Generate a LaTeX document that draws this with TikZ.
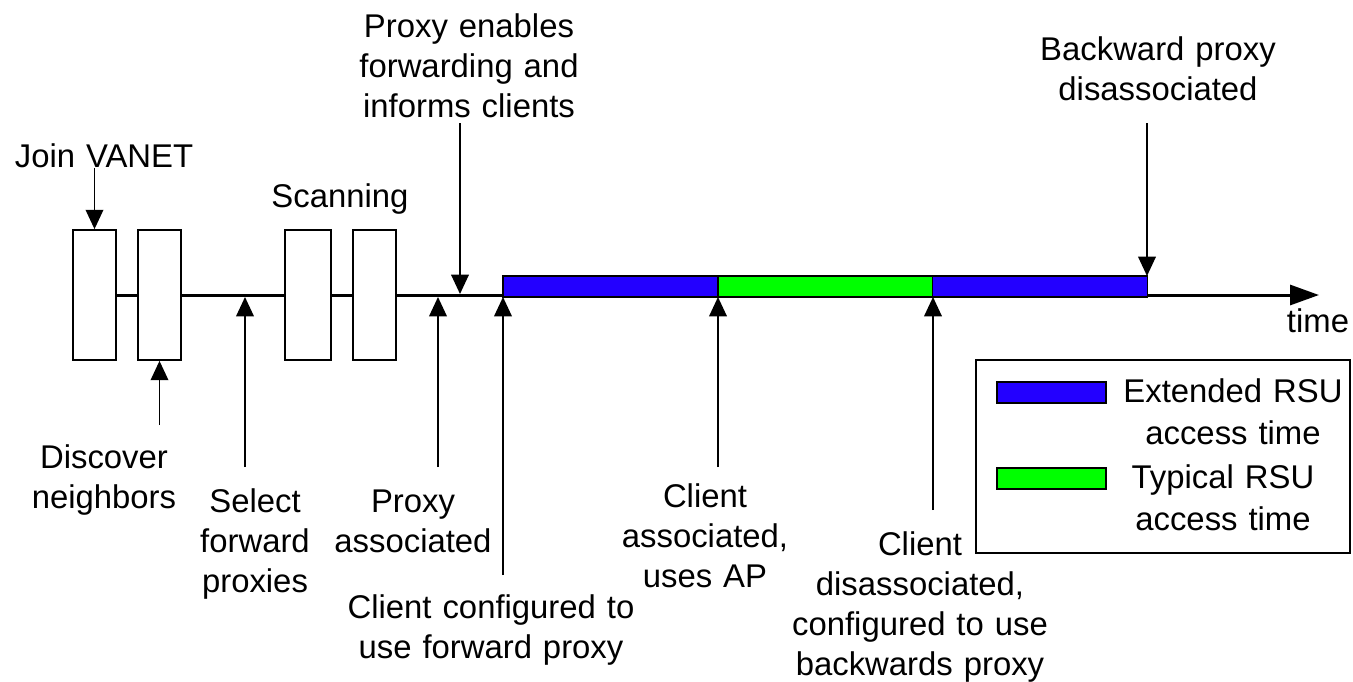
\documentclass[tikz,border=0pt]{standalone}
\usepackage{fontspec}
\setmainfont{Liberation Sans}
\usetikzlibrary{arrows.meta}
\definecolor{barblue}{RGB}{35,0,255}
\definecolor{bargreen}{RGB}{0,255,0}
\begin{document}
\begin{tikzpicture}[x=0.02cm,y=-0.02cm,
  lbl/.style={inner sep=0pt,anchor=base,text width=7cm,align=center,
    font=\fontsize{18.7pt}{22.8pt}\selectfont},
  slotbox/.style={draw,line width=1pt,fill=white,inner sep=0pt,minimum height=2.6cm},
  bar/.style={draw,line width=0.9pt,inner sep=0pt,minimum height=0.42cm,minimum width=4.3cm},
  pointer/.style={line width=1pt,-{Triangle[length=11pt,width=10pt]}},
  timeline/.style={line width=1.7pt,-{Triangle[length=16.5pt,width=11.4pt]}}]
\useasboundingbox (0,0) rectangle (1353,681);
% timeline
\coordinate (tstart) at (116,295);
\coordinate (tend) at (1319,295);
\draw[timeline] (tstart) -- (tend);
% boxes
\node[slotbox,minimum width=0.86cm] (b1) at (94.5,295) {};
\node[slotbox,minimum width=0.86cm] (b2) at (159.5,295) {};
\node[slotbox,minimum width=0.92cm] (b3) at (308,295) {};
\node[slotbox,minimum width=0.86cm] (b4) at (374.5,295) {};
% bars
\node[bar,fill=barblue] (bar1) at (610.5,286.5) {};
\node[bar,fill=bargreen] (bar2) at (825.5,286.5) {};
\node[bar,fill=barblue] (bar3) at (1040,286.5) {};
% labels
\node[lbl] (join) at (104,167) {Join VANET};
\node[lbl] (scan) at (340,207) {Scanning};
\node[lbl] (enab) at (469,37) {Proxy enables\\forwarding and\\informs clients};
\node[lbl] (back) at (1158,60) {Backward proxy\\disassociated};
\node[lbl] (time) at (1318,332) {time};
\node[lbl] (disc) at (104,468) {Discover\\neighbors};
\node[lbl] (sel) at (255,512) {Select\\forward\\proxies};
\node[lbl] (passoc) at (413,512) {Proxy\\associated};
\node[lbl] (cconf) at (491,618) {Client configured to\\use forward proxy};
\node[lbl] (cassoc) at (705,507) {Client\\associated,\\uses AP};
\node[lbl] (cdis) at (920,555) {Client\\disassociated,\\configured to use\\backwards proxy};
% arrow coordinates
\coordinate (joinT) at (94.5,168);
\coordinate (discT) at (159.5,425);
\coordinate (selT) at (245,467);
\coordinate (selH) at (245,297);
\coordinate (paT) at (438,467);
\coordinate (paH) at (438,297);
\coordinate (ccT) at (503,575);
\coordinate (ccH) at (503,297);
\coordinate (caT) at (718,467);
\coordinate (caH) at (718,297);
\coordinate (cdT) at (933,510);
\coordinate (cdH) at (933,297);
\coordinate (enT) at (460,123);
\coordinate (enH) at (460,294);
\coordinate (bkT) at (1147,123);
\coordinate (bkH) at (1147,276);
\draw[pointer] (joinT) -- (b1.north);
\draw[pointer] (discT) -- (b2.south);
\draw[pointer] (selT) -- (selH);
\draw[pointer] (paT) -- (paH);
\draw[pointer] (ccT) -- (ccH);
\draw[pointer] (caT) -- (caH);
\draw[pointer] (cdT) -- (cdH);
\draw[pointer] (enT) -- (enH);
\draw[pointer] (bkT) -- (bkH);
% legend
\node[draw,line width=1pt,inner sep=0pt,minimum width=7.48cm,minimum height=3.86cm] (legend) at (1163,456.5) {};
\node[draw,line width=0.9pt,fill=barblue,inner sep=0pt,minimum width=2.18cm,minimum height=0.42cm] (swb) at (1051.5,392.5) {};
\node[draw,line width=0.9pt,fill=bargreen,inner sep=0pt,minimum width=2.18cm,minimum height=0.42cm] (swg) at (1051.5,478.5) {};
\node[lbl,font=\fontsize{18.7pt}{23.9pt}\selectfont] (lext) at (1233,402) {Extended RSU\\access time};
\node[lbl,font=\fontsize{18.7pt}{23.9pt}\selectfont] (ltyp) at (1223,488) {Typical RSU\\access time};
\end{tikzpicture}
\end{document}
